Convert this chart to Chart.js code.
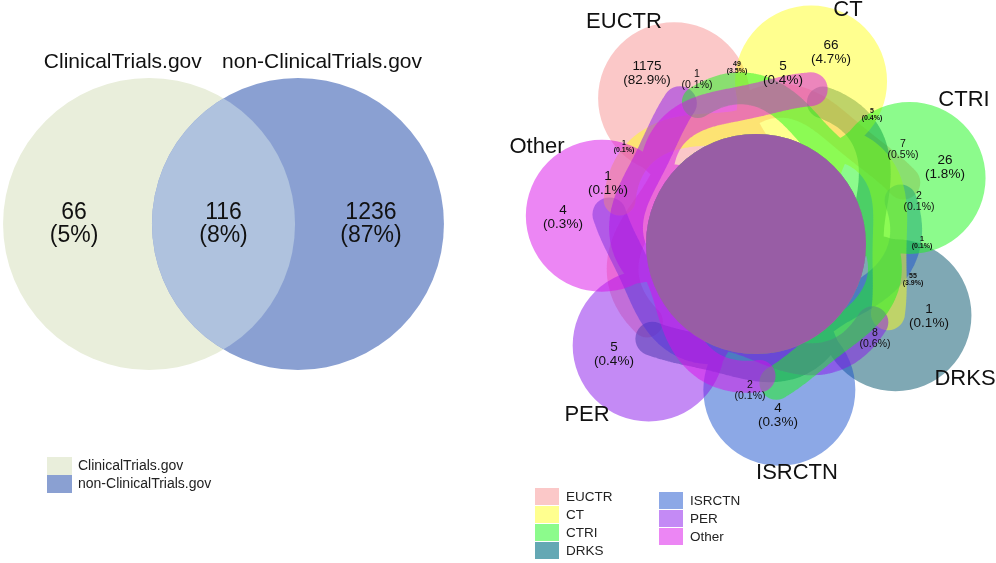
<!DOCTYPE html>
<html><head><meta charset="utf-8">
<script src="https://cdn.jsdelivr.net/npm/chart.js@4.4.0/dist/chart.umd.min.js"></script>
<style>
html,body{margin:0;padding:0;background:#fff;width:996px;height:563px;overflow:hidden}
#wrapL{position:absolute;left:0;top:0;width:500px;height:563px}
#wrapR{position:absolute;left:500px;top:0;width:496px;height:563px}
canvas{display:block}
</style></head><body>
<div id="wrapL"><canvas id="cL"></canvas></div>
<div id="wrapR"><canvas id="cR"></canvas></div>
<script>
// ================= DATA =================
// Two-set Venn (ClinicalTrials.gov vs non-ClinicalTrials.gov)
const twoSetNames = ['ClinicalTrials.gov', 'non-ClinicalTrials.gov'];
const twoRegionCounts = [66, 116, 1236];
const twoRegionPercents = ['5%', '8%', '87%'];

// Seven-set Venn (registries)
const sevenSetNames = ['EUCTR', 'CT', 'CTRI', 'DRKS', 'ISRCTN', 'PER', 'Other'];
const sevenRegionCounts = [1175, 66, 5, 26, 1, 4, 5, 4, 1, 1, 7, 2, 8, 2, 49, 5, 1, 55, 1];
const sevenRegionPercents = ['82.9%', '4.7%', '0.4%', '1.8%', '0.1%', '0.3%', '0.4%', '0.3%', '0.1%',
                             '0.1%', '0.5%', '0.1%', '0.6%', '0.1%',
                             '3.5%', '0.4%', '0.1%', '3.9%', '0.1%'];

// ================= LAYOUT / STYLE (not data) =================
const FONT = '"Liberation Sans", Arial, Helvetica, sans-serif';
const twoColors = ['#E9EEDB', '#8AA0D2'];
const twoOverlapColor = '#AFC2DE';
const twoCircleX = [-0.51, 0.51];
const twoLabelX = [-1.024, 0.0, 1.01];
const twoTitleX = [-0.69, 0.675];
const twoTitleY = 1.11;

const sevenColors = ['#FBC8C8', '#FFFF8F', '#8CFB8C', '#64A8B4', '#8CA8E6', '#C48AF5', '#EC86F4'];
const sevenAlpha = 0.5;
const sevenDrawOrder = [0, 3, 4, 1, 5, 2, 6];
const firstAngle = -32.7, stepAngle = 360 / 7;
const coreOffset = [-0.04, -0.12];
const sevenLabelPos = [[-1.13,1.59],[0.71,1.80],[0.23,1.59],[1.85,0.65],[1.69,-0.84],[0.18,-1.83],[-1.46,-1.22],[-1.97,0.15],[-1.52,0.49],
                       [-0.63,1.52],[1.43,0.82],[1.59,0.30],[1.15,-1.07],[-0.10,-1.59],
                       [-0.23,1.64],[1.12,1.17],[1.62,-0.11],[1.53,-0.48],[-1.36,0.85]];
const sevenLabelSize = [0,0,0,0,0,0,0,0,0, 1,1,1,1,1, 2,2,2,2,2];
const sevenNamePos = [[-1.36,2.10],[0.88,2.22],[2.04,1.32],[2.05,-1.47],[0.37,-2.41],[-1.73,-1.83],[-2.23,0.85]];

// ================= helpers =================
function hexToRgb(h){h=h.replace('#','');return [parseInt(h.substr(0,2),16),parseInt(h.substr(2,2),16),parseInt(h.substr(4,2),16)];}
function layerColor(hex,a){
  return 'rgba('+hexToRgb(hex).map(v=>Math.max(0,Math.min(255,Math.round((v-255*(1-a))/a)))).join(',')+','+a+')';
}
function twoLine(ctx,x,y,l1,l2,size,gap,bold){
  ctx.font=(bold?'bold ':'')+size+'px '+FONT;
  ctx.textAlign='center';ctx.textBaseline='middle';ctx.fillStyle='#111';
  ctx.fillText(l1,x,y-gap/2);ctx.fillText(l2,x,y+gap/2);
}
function makeChart(id,w,h,xr,yr,points,plugin){
  const cv=document.getElementById(id);
  cv.width=w;cv.height=h;cv.style.width=w+'px';cv.style.height=h+'px';
  return new Chart(cv,{
    type:'scatter',
    data:{datasets:[{data:points,pointRadius:0,pointHoverRadius:0,showLine:false}]},
    options:{responsive:false,animation:false,events:[],layout:{padding:0},
      plugins:{legend:{display:false},tooltip:{enabled:false}},
      scales:{x:{type:'linear',min:xr[0],max:xr[1],display:false},
              y:{type:'linear',min:yr[0],max:yr[1],display:false}}},
    plugins:[plugin]
  });
}

// ================= LEFT: two-set Venn =================
const leftPoints = twoRegionCounts.map((c,i)=>({x:twoLabelX[i],y:0}));
const leftPlugin={id:'venn2',afterDraw(chart){
  const ctx=chart.ctx,xs=chart.scales.x,ys=chart.scales.y;
  const X=v=>xs.getPixelForValue(v),Y=v=>ys.getPixelForValue(v);
  const R=Math.abs(X(1)-X(0));
  const circ=i=>{ctx.beginPath();ctx.arc(X(twoCircleX[i]),Y(0),R,0,Math.PI*2);};
  ctx.save();
  circ(0);ctx.fillStyle=twoColors[0];ctx.fill();
  circ(1);ctx.fillStyle=twoColors[1];ctx.fill();
  ctx.save();circ(0);ctx.clip();circ(1);ctx.fillStyle=twoOverlapColor;ctx.fill();ctx.restore();
  chart.data.datasets[0].data.forEach((p,i)=>{
    twoLine(ctx,X(p.x),Y(p.y),String(twoRegionCounts[i]),'('+twoRegionPercents[i]+')',23,23,false);
  });
  ctx.font='21px '+FONT;ctx.fillStyle='#111';ctx.textAlign='center';ctx.textBaseline='middle';
  twoSetNames.forEach((n,i)=>ctx.fillText(n,X(twoTitleX[i]),Y(twoTitleY)));
  ctx.textAlign='left';ctx.font='14px '+FONT;
  twoSetNames.forEach((n,i)=>{
    const y0=457+i*18;
    ctx.fillStyle=twoColors[i];ctx.fillRect(47,y0,25,18);
    ctx.fillStyle='#222';ctx.fillText(n,78,y0+9.5);
  });
  ctx.restore();
}};
makeChart('cL',500,563,[-1.531,1.894],[-2.322,1.534],leftPoints,leftPlugin);

// ================= RIGHT: seven-set Venn =================
function setDiscs(){
  const d=[];
  for(let t=0;t<=1.0001;t+=0.04){d.push([0.8+t*0.79,0,0.58+0.17*t*t]);}
  d.push([1.59,0,0.76]);
  const arms=[{a0:18,a1:104,r0:1.12,r1:1.52,w:0.17,wave:0.1},
              {a0:-18,a1:-96,r0:1.1,r1:1.44,w:0.16,wave:-0.09}];
  arms.forEach(A=>{for(let t=0;t<=1.0001;t+=0.012){
    const ang=(A.a0+(A.a1-A.a0)*t)*Math.PI/180;
    const r=A.r0+(A.r1-A.r0)*t+A.wave*Math.sin(Math.PI*2*t);
    d.push([r*Math.cos(ang),r*Math.sin(ang),A.w]);}});
  return d;
}
const rightPoints = sevenRegionCounts.map((c,i)=>({x:sevenLabelPos[i][0],y:sevenLabelPos[i][1]}));
const rightPlugin={id:'venn7',afterDraw(chart){
  const ctx=chart.ctx,xs=chart.scales.x,ys=chart.scales.y;
  const X=v=>xs.getPixelForValue(v),Y=v=>ys.getPixelForValue(v);
  const U=Math.abs(X(1)-X(0));
  const discs=setDiscs();
  ctx.save();
  sevenDrawOrder.forEach(k=>{
    const al=(firstAngle+k*stepAngle)*Math.PI/180;
    const ca=Math.cos(al),sa=Math.sin(al);
    ctx.beginPath();
    // shared core of the set
    const cx=X(coreOffset[0]),cy=Y(coreOffset[1]),cr=1.1*U;
    ctx.moveTo(cx+cr,cy);ctx.arc(cx,cy,cr,0,Math.PI*2);
    discs.forEach(([a,b,r])=>{
      const wx=a*sa+b*ca, wy=a*ca-b*sa;
      const px=X(wx),py=Y(wy),rp=r*U;
      ctx.moveTo(px+rp,py);ctx.arc(px,py,rp,0,Math.PI*2);
    });
    ctx.fillStyle=layerColor(sevenColors[k],sevenAlpha);
    ctx.fill('nonzero');
  });
  const sz=[[13.5,14,false],[10.5,11,false],[7,7,true]];
  chart.data.datasets[0].data.forEach((p,i)=>{
    const s=sz[sevenLabelSize[i]];
    twoLine(ctx,X(p.x),Y(p.y),String(sevenRegionCounts[i]),'('+sevenRegionPercents[i]+')',s[0],s[1],s[2]);
  });
  ctx.font='22px '+FONT;ctx.fillStyle='#111';ctx.textAlign='center';ctx.textBaseline='middle';
  sevenSetNames.forEach((n,k)=>ctx.fillText(n,X(sevenNamePos[k][0]),Y(sevenNamePos[k][1])));
  ctx.font='13.5px '+FONT;ctx.textAlign='left';
  sevenSetNames.forEach((n,k)=>{
    const col=k<4?0:1,row=k<4?k:k-4;
    const x0=col?159:35,y0=(col?492:488)+row*18;
    ctx.fillStyle=sevenColors[k];ctx.fillRect(x0,y0,24,17);
    ctx.fillStyle='#222';ctx.fillText(n,x0+31,y0+9);
  });
  ctx.restore();
}};
makeChart('cR',496,563,[-2.6,2.36],[-3.31,2.32],rightPoints,rightPlugin);
</script>
</body></html>
